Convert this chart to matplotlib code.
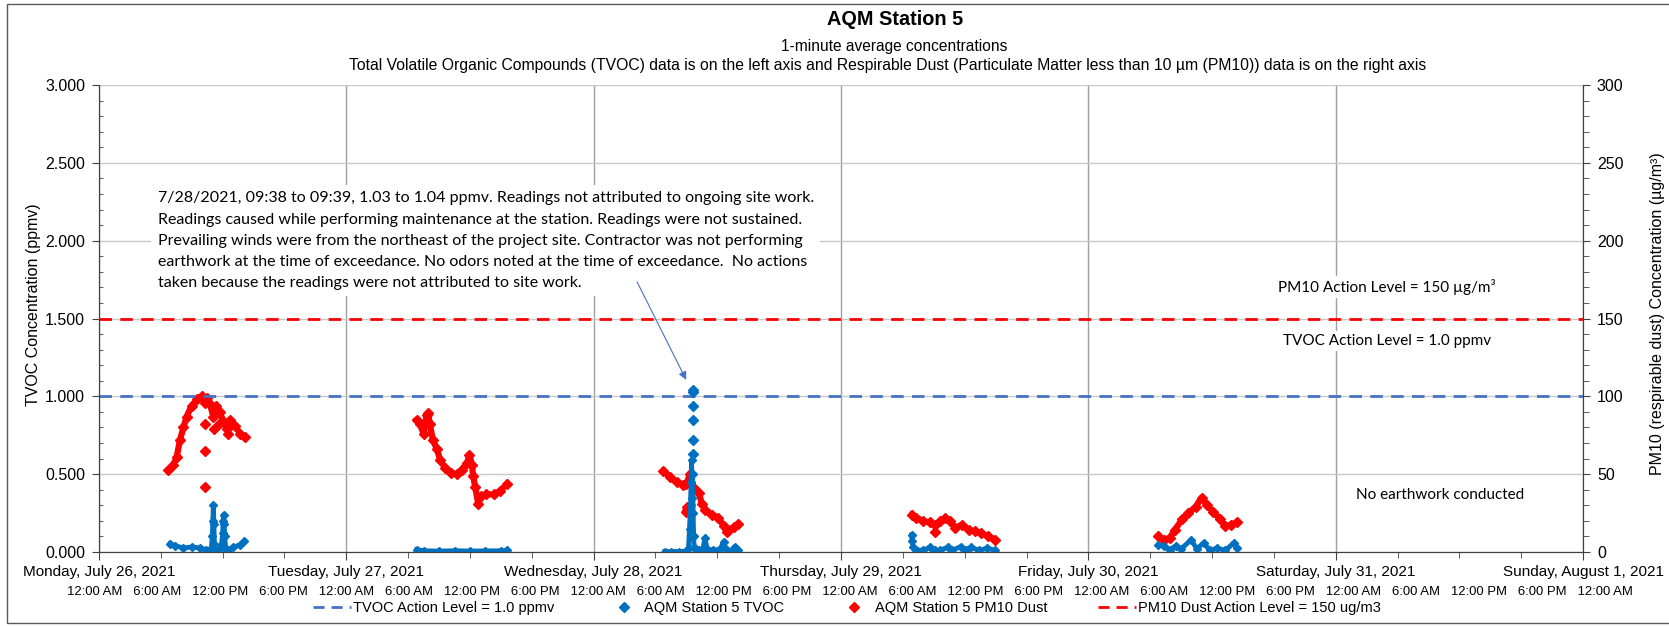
import numpy as np
import pandas as pd
import matplotlib
matplotlib.use("Agg")
import matplotlib.pyplot as plt
import matplotlib.dates as mdates
from matplotlib.lines import Line2D
from matplotlib.patches import Rectangle

plt.rcParams["font.family"] = ["Liberation Sans", "DejaVu Sans"]

# ---- data (hours after midnight of each day) ----
start = pd.Timestamp("2021-07-26")

# Monday
tvoc_mon_h = [6.9, 7.4, 8.2, 9.0, 9.8, 10.4, 10.9, 11.0, 11.05, 11.1, 11.15, 11.2, 11.3, 11.6, 11.9, 12.0,
              12.05, 12.1, 12.15, 12.2, 12.3, 12.5, 13.0, 13.7, 14.1]
tvoc_mon_v = [0.054, 0.040, 0.026, 0.032, 0.026, 0.015, 0.02, 0.10, 0.20, 0.30, 0.18, 0.05, 0.01, 0.01, 0.05, 0.12,
              0.20, 0.24, 0.18, 0.10, 0.02, 0.01, 0.03, 0.047, 0.068]
pm10_mon_h = [6.73, 7.21, 7.54, 7.86, 8.2, 8.5, 9.0, 9.5, 9.96, 10.3, 10.45, 10.77, 11.1, 11.4, 11.7, 12.07,
              12.4, 12.7, 13.2, 13.7, 14.2]
pm10_mon_v = [53, 56, 61, 72, 80, 87, 94, 98, 100, 96, 99, 95, 87, 94, 90, 84, 79, 85, 81, 76, 74]
pm10_mon_xh = [10.3, 10.3, 10.3, 11.2, 11.6, 12.5]
pm10_mon_xv = [82, 65, 42, 79, 82, 76]

# Tuesday
tvoc_tue_h = [6.83, 7.5, 9.0, 10.5, 12.0, 13.5, 15.0, 15.6]
tvoc_tue_v = [0.015, 0.008, 0.006, 0.008, 0.006, 0.007, 0.008, 0.01]
pm10_tue_h = [6.83, 7.15, 7.5, 7.8, 7.95, 8.1, 8.4, 8.8, 9.1, 9.6, 10.2, 10.7, 11.2, 11.7, 11.95, 12.2,
              12.3, 12.5, 12.8, 13.1, 13.6, 14.3, 14.9, 15.6]
pm10_tue_v = [85, 82, 76, 88, 89, 82, 72, 66, 59, 54, 51, 50, 53, 57, 62, 56, 49, 42, 31, 36, 37, 37, 39, 44]

# Wednesday
tvoc_wed_h = [6.9, 7.5, 8.3, 9.0, 9.2, 9.3, 9.4, 9.45, 9.5, 9.55, 9.6, 9.65, 9.7, 9.75, 9.9, 10.2, 10.6,
              10.8, 11.0, 11.6, 12.3, 12.6, 12.9, 13.4, 13.7, 14.05]
tvoc_wed_v = [0.003, 0.003, 0.003, 0.004, 0.02, 0.15, 0.30, 0.45, 0.59, 0.35, 0.50, 0.25, 0.10, 0.03, 0.01,
              0.01, 0.02, 0.09, 0.02, 0.01, 0.02, 0.066, 0.01, 0.01, 0.035, 0.01]
tvoc_wed_xh = [9.6, 9.6, 9.6, 9.6, 9.6, 9.6]
tvoc_wed_xv = [1.04, 1.03, 0.94, 0.85, 0.72, 0.63]
pm10_wed_h = [6.77, 7.4, 8.1, 8.7, 9.0, 9.35, 9.7, 10.2, 10.5, 10.8, 11.5, 12.1, 12.6, 12.9, 13.6, 14.0]
pm10_wed_v = [52, 48, 45, 43, 44, 50, 41, 38, 31, 27, 24, 22, 17, 13, 16, 18]
pm10_wed_xh = [9.0, 9.05, 9.1]
pm10_wed_xv = [26, 29, 27]

# Thursday
tvoc_thu_h = [6.86, 6.9, 7.0, 7.3, 8.0, 8.6, 9.1, 9.6, 10.4, 10.8, 11.6, 12.1, 12.6, 13.4, 14.2, 14.95]
tvoc_thu_v = [0.11, 0.07, 0.03, 0.015, 0.01, 0.03, 0.01, 0.012, 0.03, 0.01, 0.035, 0.01, 0.03, 0.01, 0.025, 0.01]
pm10_thu_h = [6.86, 7.3, 8.0, 8.6, 9.1, 9.6, 10.1, 10.6, 11.1, 11.7, 12.4, 13.0, 13.6, 14.3, 14.95]
pm10_thu_v = [24, 22, 19.7, 19, 17.5, 19.7, 21.8, 19.7, 15.4, 17.5, 14.3, 13.3, 12.2, 10, 8]
pm10_thu_xh = [9.1]
pm10_thu_xv = [13]

# Friday
tvoc_fri_h = [6.8, 7.3, 7.9, 8.5, 9.0, 10.0, 10.5, 11.2, 11.8, 12.5, 13.3, 14.1, 14.4]
tvoc_fri_v = [0.047, 0.036, 0.015, 0.04, 0.02, 0.08, 0.02, 0.058, 0.01, 0.025, 0.01, 0.058, 0.026]
pm10_fri_h = [6.8, 7.3, 7.9, 8.4, 9.1, 9.7, 10.4, 11.0, 11.5, 12.1, 12.8, 13.3, 13.8, 14.4]
pm10_fri_v = [10, 8, 9, 14.3, 21, 25, 29, 35, 30, 26, 21, 16.5, 17.5, 19]

tvoc_days = [(0, tvoc_mon_h, tvoc_mon_v), (1, tvoc_tue_h, tvoc_tue_v), (2, tvoc_wed_h, tvoc_wed_v),
             (3, tvoc_thu_h, tvoc_thu_v), (4, tvoc_fri_h, tvoc_fri_v)]
pm10_days = [(0, pm10_mon_h, pm10_mon_v), (1, pm10_tue_h, pm10_tue_v), (2, pm10_wed_h, pm10_wed_v),
             (3, pm10_thu_h, pm10_thu_v), (4, pm10_fri_h, pm10_fri_v)]
tvoc_extra = [(2, tvoc_wed_xh, tvoc_wed_xv)]
pm10_extra = [(0, pm10_mon_xh, pm10_mon_xv), (2, pm10_wed_xh, pm10_wed_xv), (3, pm10_thu_xh, pm10_thu_xv)]

tvoc_action = 1.0
pm10_action = 150

time_labels = ["12:00 AM", "6:00 AM", "12:00 PM", "6:00 PM"] * 6 + ["12:00 AM"]

note = ("7/28/2021, 09:38 to 09:39, 1.03 to 1.04 ppmv. Readings not attributed to ongoing site work.\n"
        "Readings caused while performing maintenance at the station. Readings were not sustained.\n"
        "Prevailing winds were from the northeast of the project site. Contractor was not performing\n"
        "earthwork at the time of exceedance. No odors noted at the time of exceedance.  No actions\n"
        "taken because the readings were not attributed to site work.")


def to_time(day, hours):
    return [start + pd.Timedelta(days=day) + pd.Timedelta(hours=h) for h in hours]


blue = "#0070C0"
red = "#FF0000"

fig = plt.figure(figsize=(16.69, 6.26), dpi=100)
ax = fig.add_axes([0.0593, 0.1182, 0.8892, 0.746])
ax2 = ax.twinx()
ax.set_zorder(2)
ax2.set_zorder(1)
ax.patch.set_visible(False)

# series
for day, h, v in pm10_days:
    ax2.plot(to_time(day, h), v, color=red, lw=4.5, marker="D", ms=5, solid_joinstyle="round", zorder=4)
for day, h, v in pm10_extra:
    ax2.plot(to_time(day, h), v, ls="none", color=red, marker="D", ms=5, zorder=4)
for day, h, v in tvoc_days:
    ax.plot(to_time(day, h), v, color=blue, lw=3.5, marker="D", ms=4.5, solid_joinstyle="round")
for day, h, v in tvoc_extra:
    ax.plot(to_time(day, h), v, ls="none", color=blue, marker="D", ms=5)

ax.axhline(tvoc_action, color="#4472C4", lw=2, dashes=(4.5, 3), zorder=1)
ax2.axhline(pm10_action, color=red, lw=2, dashes=(4.5, 3), zorder=3)

# axes
ax.set_xlim(start, start + pd.Timedelta(days=6))
ax.set_ylim(0, 3)
ax2.set_ylim(0, 300)
ax.xaxis.set_major_locator(mdates.DayLocator())
ax.xaxis.set_minor_locator(mdates.HourLocator(byhour=[6, 12, 18]))
ax.xaxis.set_major_formatter(mdates.DateFormatter("%A, %B %-d, %Y"))
ax.yaxis.set_major_locator(plt.MultipleLocator(0.5))
ax.yaxis.set_minor_locator(plt.MultipleLocator(0.1))
ax.yaxis.set_major_formatter(plt.FormatStrFormatter("%.3f"))
ax2.yaxis.set_major_locator(plt.MultipleLocator(50))
ax2.yaxis.set_minor_locator(plt.MultipleLocator(10))

ax2.xaxis.set_visible(True)
ax2.tick_params(axis="x", which="both", length=0, labelbottom=False, labeltop=False)
ax2.grid(axis="x", which="major", color="#A0A0A0", lw=1)
ax2.grid(axis="y", which="major", color="#C8C8C8", lw=1)

for a in (ax, ax2):
    for s in a.spines.values():
        s.set_color("#404040")
    a.spines["top"].set_visible(False)

ax.tick_params(axis="x", which="major", length=6, pad=3, labelsize=11, color="#404040")
ax.tick_params(axis="x", which="minor", length=4, color="#404040")
ax.tick_params(axis="y", which="major", length=5, pad=5, labelsize=11.5, color="#404040")
ax.tick_params(axis="y", which="minor", length=3, direction="in", color="#404040")
ax2.tick_params(axis="y", which="major", length=5, pad=5, labelsize=11.5, color="#404040")
ax2.tick_params(axis="y", which="minor", length=4, color="#404040")

ax.set_ylabel("TVOC Concentration (ppmv)", fontsize=11.5)
ax.yaxis.set_label_coords(-0.039, 0.53)
ax2.set_ylabel("PM10 (respirable dust) Concentration (µg/m³)", fontsize=11.5, rotation=90)
ax2.yaxis.set_label_coords(1.045, 0.51)

# titles
fig.text(0.536, 0.969, "AQM Station 5", ha="center", va="center", fontsize=14.3, fontweight="bold")
fig.text(0.536, 0.925, "1-minute average concentrations", ha="center", va="center", fontsize=11.2)
fig.text(0.532, 0.896, "Total Volatile Organic Compounds (TVOC) data is on the left axis and Respirable Dust "
         "(Particulate Matter less than 10 µm (PM10)) data is on the right axis",
         ha="center", va="center", fontsize=11.3)

# time of day row
fig.text(0.5095, 1 - 592 / 626, "   ".join(time_labels), ha="center", va="center", fontsize=9.45)

# annotations
cal = ["Lato", "DejaVu Sans"]
ax.text(0.0395, 0.772, note, transform=ax.transAxes, ha="left", va="top", fontsize=11.5, family=cal,
        linespacing=1.65, bbox=dict(boxstyle="square,pad=0.4", fc="white", ec="none"))
ax.annotate("", xy=(start + pd.Timedelta(days=2, hours=9.1), 1.09),
            xytext=(start + pd.Timedelta(days=2, hours=4.1), 1.75),
            arrowprops=dict(arrowstyle="-|>", color="#4472C4", lw=0.8, mutation_scale=12))
ax.text(0.868, 0.567, "PM10 Action Level = 150 µg/m³", transform=ax.transAxes, ha="center", va="center",
        fontsize=11, family=cal, bbox=dict(fc="white", ec="none", pad=2))
ax.text(0.868, 0.452, "TVOC Action Level = 1.0 ppmv", transform=ax.transAxes, ha="center", va="center",
        fontsize=11, family=cal, bbox=dict(fc="white", ec="none", pad=2))
ax.text(0.904, 0.122, "No earthwork conducted", transform=ax.transAxes, ha="center", va="center",
        fontsize=11, family=cal, bbox=dict(fc="white", ec="none", pad=2))

# legend
handles = [
    Line2D([], [], color="#4472C4", lw=2, dashes=(4, 2.5)),
    Line2D([], [], ls="none", color=blue, marker="D", ms=5),
    Line2D([], [], ls="none", color=red, marker="D", ms=5),
    Line2D([], [], color=red, lw=2, dashes=(4, 2.5)),
]
labels = ["TVOC Action Level = 1.0 ppmv", "AQM Station 5 TVOC", "AQM Station 5 PM10 Dust",
          "PM10 Dust Action Level = 150 ug/m3"]
fig.legend(handles, labels, loc="center", bbox_to_anchor=(0.5075, 1 - 608 / 626), ncol=4, frameon=False,
           fontsize=10.5, handlelength=2.6, handletextpad=0.1, columnspacing=3.5)

# chart area border
fig.patches.append(Rectangle((7 / 1669, 3 / 626), 1.2, 1 - 7 / 626, transform=fig.transFigure,
                             fill=False, ec="#595959", lw=1))

fig.savefig("out.png", dpi=100)
